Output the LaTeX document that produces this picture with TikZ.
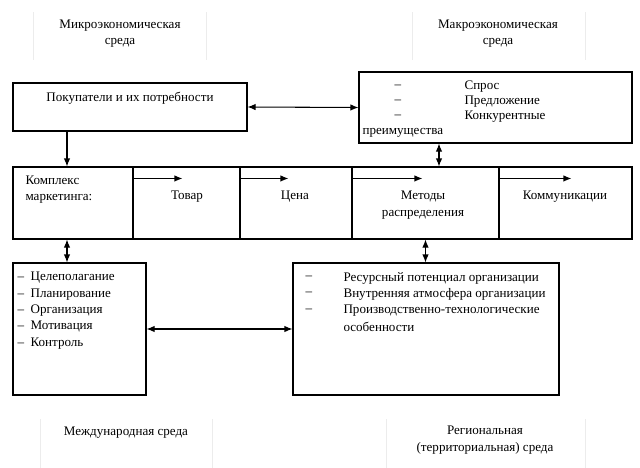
\documentclass[tikz,border=0pt]{standalone}
\usepackage{fontspec}
\setmainfont{Liberation Serif}
\usetikzlibrary{arrows.meta,positioning}
\newdimen\pxu
\pxu=0.75pt

\begin{document}
\begin{tikzpicture}[x=0.75pt, y=-0.75pt, >={Latex[length=6pt,width=4.8pt]}, line width=0.8pt]
    \tikzset{
        box/.style={draw, rectangle, inner sep=0pt, line width=0.8pt},
        txt/.style={font=\fontsize{9.8}{12.2}\selectfont, inner sep=0pt, align=center},
        item/.style={txt, anchor=west, align=left},
        env/.style={draw=gray!15, line width=0.5pt},
        line/.style={draw, ->},
        dline/.style={draw, <->}
    }
    \useasboundingbox (0,0) rectangle (640,468);

    % Environment labels
    \draw[env] (33,12) -- (33,60) (206,12) -- (206,60);
    \node[txt] (micro) at (120,33.5) {Микроэкономическая\\среда};
    \draw[env] (412,12) -- (412,60) (585,12) -- (585,60);
    \node[txt] (macro) at (498,33.5) {Макроэкономическая\\среда};
    \draw[env] (40,419) -- (40,468) (212,419) -- (212,468);
    \node[txt] (intl) at (126,433) {Международная среда};
    \draw[env] (386,419) -- (386,468) (585,419) -- (585,468);
    \node[txt] (region) at (485,440) {Региональная\\(территориальная) среда};

    % Buyers and market factors
    \node[box, minimum width=234\pxu, minimum height=48\pxu] (buyers) at (130,107) {};
    \node[txt] (buyerstext) at (130,98) {Покупатели и их потребности};
    \node[box, minimum width=273\pxu, minimum height=71\pxu] (demand) at (495.5,107.5) {};
    \foreach \y/\t in {87/Спрос, 102/Предложение, 117/Конкурентные}{
        \node[item] at (394,\y) {–};
        \node[item] at (464,\y) {\t};
    }
    \node[item] (demandtext) at (362,133) {преимущества};

    % Marketing mix row
    \node[box, minimum width=120\pxu, minimum height=72\pxu] (mix) at (73,203) {};
    \node[box, minimum width=107\pxu, minimum height=72\pxu] (goods) at (186.5,203) {};
    \node[box, minimum width=112\pxu, minimum height=72\pxu] (price) at (296,203) {};
    \node[box, minimum width=147\pxu, minimum height=72\pxu] (distr) at (425.5,203) {};
    \node[box, minimum width=133\pxu, minimum height=72\pxu] (comm) at (565.5,203) {};
    \node[item] (mixtext) at (25,189.5) {Комплекс\\маркетинга:};
    \node[txt] (goodstext) at (187,197) {Товар};
    \node[txt] (pricetext) at (295,197) {Цена};
    \node[txt] (distrtext) at (423,205) {Методы\\распределения};
    \node[txt] (commtext) at (565,197) {Коммуникации};
    \foreach \c/\l in {goods/50, price/49, distr/71, comm/73}
        \path[line] (\c.north west) ++(0,12) -- ++(\l,0);

    % Management and internal environment
    \node[box, minimum width=133\pxu, minimum height=132\pxu] (mgmt) at (79.5,329) {};
    \foreach \y/\t [count=\i] in {278/Целеполагание, 294.3/Планирование, 310.6/Организация, 326.9/Мотивация, 343.2/Контроль}{
        \node[item] (mgmt\i) at (17,\y) {–\ \ \t};
    }
    \node[box, minimum width=266\pxu, minimum height=132\pxu] (intern) at (426,329) {};
    \foreach \y/\t in {278/Ресурсный потенциал организации, 294.3/Внутренняя атмосфера организации, 310.6/Производственно-технологические}{
        \node[item] at (305,\y) {–};
        \node[item] at (343,\y) {\t};
    }
    \node[item] (interntext) at (343,326.9) {особенности};

    % Connections
    \coordinate (leftx) at (67,0);
    \coordinate (rightx) at (439,0);
    \path[dline] (buyers.east) -- (demand.west);
    \path[line] (buyers.south -| leftx) -- (mix.north -| leftx);
    \path[dline] (demand.south -| rightx) -- (distr.north -| rightx);
    \path[dline] (mix.south -| leftx) -- (mgmt.north -| leftx);
    \path[dline] (distr.south) -- (distr.south |- intern.north);
    \path[dline] (mgmt.east) -- (intern.west);

\end{tikzpicture}
\end{document}
